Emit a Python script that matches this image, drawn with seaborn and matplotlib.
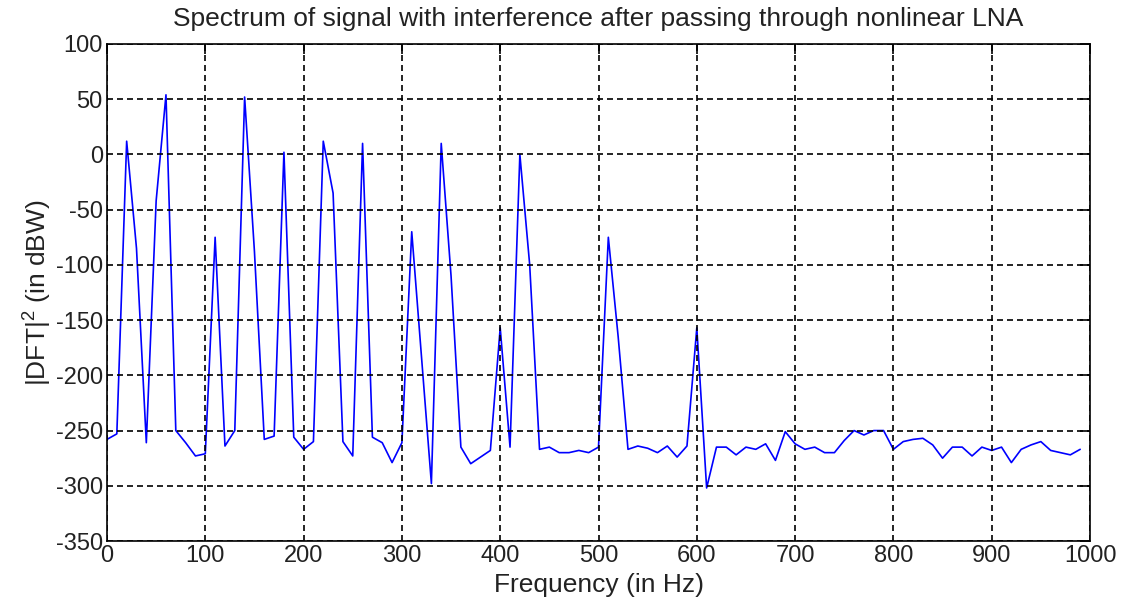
import numpy as np
import matplotlib
matplotlib.use('Agg')
import matplotlib.pyplot as plt
import seaborn as sns

# frequency bins (Hz), 10 Hz resolution
freq = np.arange(0, 1000, 10)

# |DFT|^2 in dBW
power_db = [
    -258, -253, 12, -85, -261, -42, 54, -250, -261, -273,      # 0-90
    -271, -75, -264, -250, 52, -88, -258, -255, 2, -256,       # 100-190
    -267, -260, 12, -35, -260, -273, 10, -256, -261, -279,     # 200-290
    -261, -70, -184, -298, 10, -110, -265, -280, -274, -268,   # 300-390
    -157, -265, 0, -100, -267, -265, -270, -270, -268, -270,   # 400-490
    -265, -75, -165, -267, -264, -266, -270, -264, -274, -264, # 500-590
    -157, -302, -265, -265, -272, -265, -267, -262, -277, -251,# 600-690
    -262, -267, -265, -270, -270, -259, -250, -254, -250, -250,# 700-790
    -267, -260, -258, -257, -263, -275, -265, -265, -273, -265,# 800-890
    -268, -265, -279, -267, -263, -260, -268, -270, -272, -267,# 900-990
]

xticks = np.arange(0, 1001, 100)
yticks = np.arange(-350, 101, 50)

sns.set_style('white')
plt.rcParams['font.family'] = ['Liberation Sans', 'DejaVu Sans']
plt.rcParams['mathtext.fontset'] = 'custom'
plt.rcParams['mathtext.rm'] = 'Liberation Sans'
plt.rcParams['axes.unicode_minus'] = False

fig = plt.figure(figsize=(11.29, 6.09), dpi=100)
ax = fig.add_axes([107 / 1129, 1 - 541 / 609, (1090 - 107) / 1129, (541 - 44) / 609])

sns.lineplot(x=freq, y=power_db, ax=ax, color='#0000ff', linewidth=1.2)

ax.set_xlim(0, 1000)
ax.set_ylim(-350, 100)
ax.set_xticks(xticks)
ax.set_yticks(yticks)

# matlab-ish dashed grid on top of the data
ax.grid(True, color='black', linestyle=(0, (3.6, 2.4)), linewidth=1.2)
ax.set_axisbelow(False)
for s in ax.spines.values():
    s.set_color('black')
    s.set_linewidth(1.2)

ax.tick_params(direction='in', length=7, width=1.2, color='black',
               top=True, right=True, labelsize=17, labelcolor='#222222', pad=3)

ax.set_title('Spectrum of signal with interference after passing through nonlinear LNA',
             fontsize=19, color='#222222', pad=13)
ax.set_xlabel('Frequency (in Hz)', fontsize=19, color='#222222', labelpad=4)
ax.set_ylabel('|DFT|$^2$ (in dBW)', fontsize=19, color='#222222', labelpad=2)

fig.savefig('out.png', dpi=100)
